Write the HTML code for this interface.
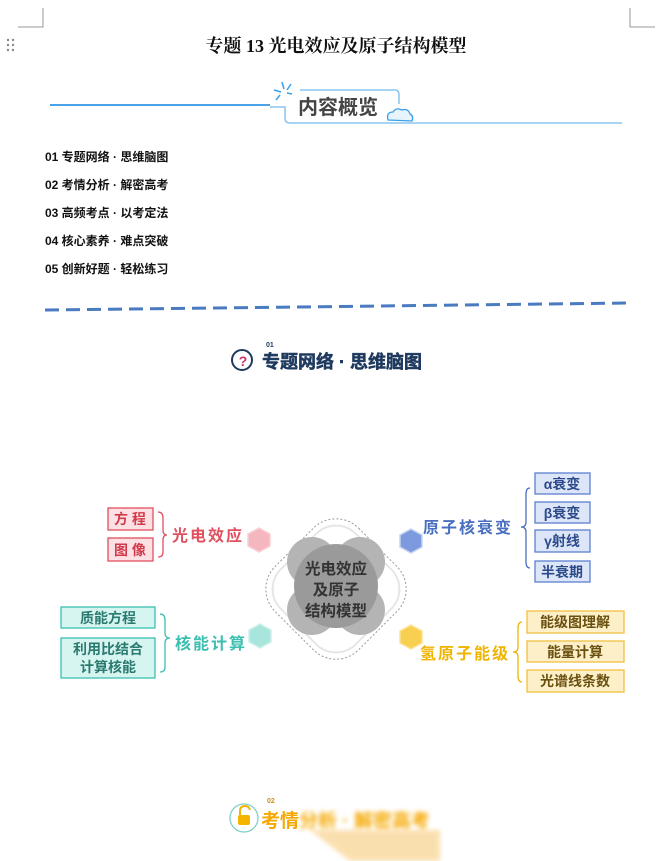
<!DOCTYPE html>
<html><head><meta charset="utf-8"><style>
body{margin:0;background:#fff;}
svg{display:block}
text{font-family:"Liberation Sans","Noto Sans CJK SC",sans-serif;}
</style></head><body>
<svg width="668" height="861" viewBox="0 0 668 861" xmlns="http://www.w3.org/2000/svg">
<g stroke="#999" stroke-width="1" fill="none">
<path d="M43 8 V27 H18"/><path d="M630 8 V27 H655"/>
</g>
<g fill="#888"><circle cx="8" cy="40" r="1.2"/><circle cx="13" cy="40" r="1.2"/><circle cx="8" cy="45" r="1.2"/><circle cx="13" cy="45" r="1.2"/><circle cx="8" cy="50" r="1.2"/><circle cx="13" cy="50" r="1.2"/></g>
<text x="336" y="52" text-anchor="middle" font-size="18" font-weight="bold" fill="#111" style="font-family:'Liberation Serif','Noto Serif CJK SC',serif">专题 13  光电效应及原子结构模型</text>
<line x1="50" y1="105" x2="270" y2="105" stroke="#4aa3e8" stroke-width="2"/>
<path d="M270 107 H285 V118 Q285 123 290 123 H622" stroke="#8cc6f0" stroke-width="1.5" fill="none"/>
<path d="M300 90 H395 Q399 90 399 95 V104" stroke="#8cc6f0" stroke-width="1.5" fill="none"/>
<g stroke="#3aa0e8" stroke-width="1.5"><line x1="282" y1="82" x2="284" y2="89"/><line x1="291" y1="84" x2="287" y2="90"/><line x1="274" y1="90" x2="281" y2="92"/><line x1="280" y1="95" x2="276" y2="100"/><line x1="292" y1="94" x2="287" y2="93"/></g>
<text x="298" y="114" font-size="20" font-weight="bold" fill="#444">内容概览</text>
<path d="M388 120 Q386 112 393 112 Q396 107 402 110 Q408 108 410 114 Q414 116 412 121 Z" fill="#e8f4fd" stroke="#3aa0e8" stroke-width="1.3"/>
<g font-size="12" font-weight="bold" fill="#111">
<text x="45" y="161">01 专题网络 · 思维脑图</text>
<text x="45" y="189">02 考情分析 · 解密高考</text>
<text x="45" y="217">03 高频考点 · 以考定法</text>
<text x="45" y="245">04 核心素养 · 难点突破</text>
<text x="45" y="273">05 创新好题 · 轻松练习</text>
</g>
<line x1="45" y1="310" x2="630" y2="303" stroke="#4a7abf" stroke-width="3" stroke-dasharray="14 7"/>
<circle cx="242" cy="360" r="10" fill="none" stroke="#1f3a5f" stroke-width="2"/>
<text x="243" y="366" text-anchor="middle" font-size="14" font-weight="bold" fill="#d0306a">?</text>
<text x="266" y="347" font-size="7" font-weight="bold" fill="#1f3a5f">01</text>
<text x="262" y="368" font-size="18" font-weight="bold" fill="#1f3a5f" stroke="#1f3a5f" stroke-width="0.5">专题网络 · 思维脑图</text>
<!-- center -->
<rect x="277" y="530" width="118" height="118" rx="32" transform="rotate(45 336 589)" fill="none" stroke="#999" stroke-dasharray="2 2"/>
<rect x="283" y="536" width="106" height="106" rx="28" transform="rotate(45 336 589)" fill="none" stroke="#e6e6e6" stroke-width="2"/>
<g fill="#b4b4b4"><circle cx="312" cy="562" r="25"/><circle cx="360" cy="562" r="25"/><circle cx="312" cy="610" r="25"/><circle cx="360" cy="610" r="25"/></g>
<circle cx="336" cy="586" r="42" fill="#9a9a9a"/>
<g font-size="15.5" font-weight="bold" fill="#333" text-anchor="middle">
<text x="336" y="574">光电效应</text><text x="336" y="595">及原子</text><text x="336" y="616">结构模型</text></g>
<g stroke-width="1.5">
<polygon points="259,528 270,534 270,546 259,552 248,546 248,534" fill="#f4b6bf" stroke="#f8d0d5"/>
<polygon points="411,529 422,535 422,547 411,553 400,547 400,535" fill="#7d9ade" stroke="#c6d3f0"/>
<polygon points="260,624 271,630 271,642 260,648 249,642 249,630" fill="#a8e5dc" stroke="#d0f0ea"/>
<polygon points="411,625 422,631 422,643 411,649 400,643 400,631" fill="#f8cf50" stroke="#fbe49a"/>
</g>
<text x="172" y="541" font-size="16" font-weight="bold" fill="#e0505f" letter-spacing="2">光电效应</text>
<path d="M158 512 Q163 512 163 518 V530 Q163 535 167 535 Q163 535 163 540 V552 Q163 557 158 557" fill="none" stroke="#e0505f" stroke-width="1.3"/>
<g fill="#fde0e4" stroke="#e0505f" stroke-width="1.3"><rect x="108" y="508" width="45" height="22"/><rect x="108" y="538" width="45" height="23"/></g>
<g font-size="14" font-weight="bold" fill="#d03a4a" text-anchor="middle"><text x="130" y="524">方 程</text><text x="130" y="555">图 像</text></g>
<text x="423" y="533" font-size="16" font-weight="bold" fill="#4a6fc0" letter-spacing="2">原子核衰变</text>
<path d="M530 488 Q526 488 526 494 V522 Q526 527 521 527 Q526 527 526 532 V562 Q526 568 530 568" fill="none" stroke="#4a6fc0" stroke-width="1.3"/>
<g fill="#dce6f8" stroke="#5a7fd0" stroke-width="1.3"><rect x="535" y="473" width="55" height="21"/><rect x="535" y="502" width="55" height="21"/><rect x="535" y="530" width="55" height="22"/><rect x="535" y="561" width="55" height="21"/></g>
<g font-size="14" font-weight="bold" fill="#2c4a8a" text-anchor="middle"><text x="562" y="489">α衰变</text><text x="562" y="518">β衰变</text><text x="562" y="546">γ射线</text><text x="562" y="577">半衰期</text></g>
<text x="175" y="649" font-size="16" font-weight="bold" fill="#3bbfb0" letter-spacing="2">核能计算</text>
<path d="M160 614 Q165 614 165 620 V633 Q165 638 170 638 Q165 638 165 643 V667 Q165 672 160 672" fill="none" stroke="#3bbfb0" stroke-width="1.3"/>
<g fill="#d6f4f0" stroke="#3bbfb0" stroke-width="1.3"><rect x="61" y="607" width="94" height="21"/><rect x="61" y="638" width="94" height="40"/></g>
<g font-size="14" font-weight="bold" fill="#2a7a70" text-anchor="middle"><text x="108" y="623">质能方程</text><text x="108" y="654">利用比结合</text><text x="108" y="672">计算核能</text></g>
<text x="420" y="659" font-size="16" font-weight="bold" fill="#f0b400" letter-spacing="2">氢原子能级</text>
<path d="M522 622 Q518 622 518 628 V647 Q518 652 513 652 Q518 652 518 657 V676 Q518 682 522 682" fill="none" stroke="#f0b400" stroke-width="1.3"/>
<g fill="#fdf0c8" stroke="#f0c040" stroke-width="1.3"><rect x="527" y="611" width="97" height="22"/><rect x="527" y="641" width="97" height="21"/><rect x="527" y="670" width="97" height="22"/></g>
<g font-size="14" font-weight="bold" fill="#6a5010" text-anchor="middle"><text x="575" y="627">能级图理解</text><text x="575" y="657">能量计算</text><text x="575" y="686">光谱线条数</text></g>
<circle cx="244" cy="818" r="14" fill="none" stroke="#7fd0c8" stroke-width="1.3"/>
<rect x="238" y="815" width="12" height="10" rx="2" fill="#f5b400"/>
<path d="M240 815 V811 Q240 806 245 806 Q249 806 250 810" fill="none" stroke="#f5b400" stroke-width="2"/>
<text x="267" y="803" font-size="7" font-weight="bold" fill="#c89020">02</text>
<defs><filter id="bl"><feGaussianBlur stdDeviation="2.5"/></filter></defs>
<text x="261" y="827" font-size="19" font-weight="bold" fill="#f5a800">考情</text>
<text x="299" y="827" font-size="19" font-weight="bold" fill="#f5a800" filter="url(#bl)">分析 · 解密高考</text>
<path d="M310 830 L350 861 H440 V830 Z" fill="#f7c060" opacity="0.5" filter="url(#bl)"/>
</svg>
</body></html>
